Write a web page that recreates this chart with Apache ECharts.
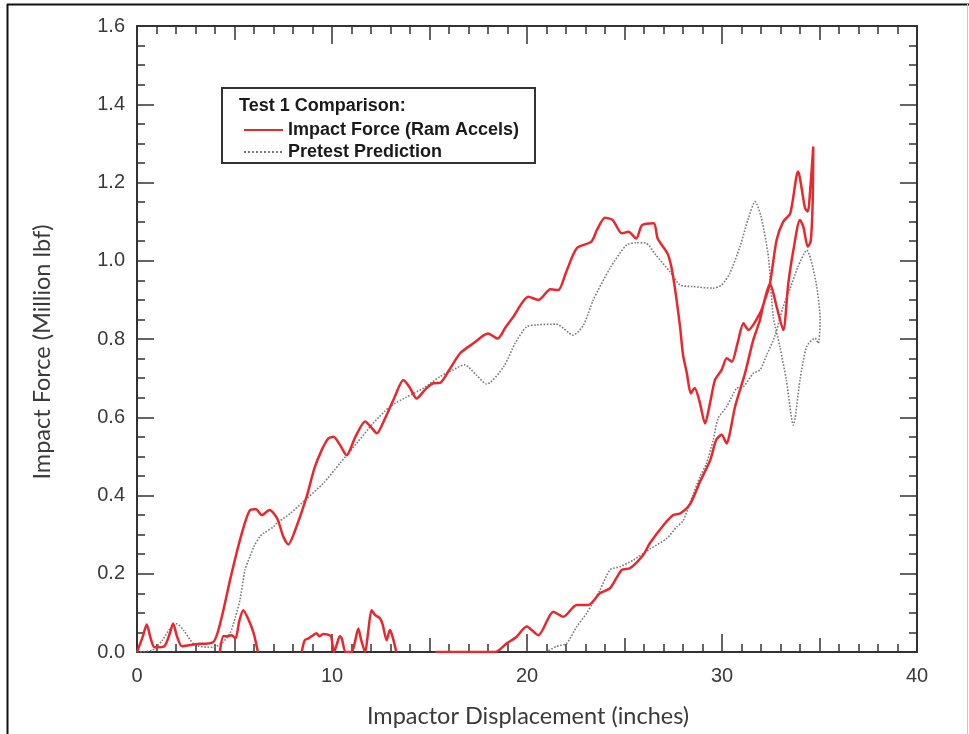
<!DOCTYPE html>
<html>
<head>
<meta charset="utf-8">
<script src="https://cdn.jsdelivr.net/npm/echarts@6/dist/echarts.min.js"></script>
<style>
html,body{margin:0;padding:0;background:#fff;}
#chart{width:969px;height:734px;}
</style>
</head>
<body>
<div id="chart"></div>
<script>
// ---------- data ----------
const xTicks = [0, 10, 20, 30, 40];
const yTicks = [0.0, 0.2, 0.4, 0.6, 0.8, 1.0, 1.2, 1.4, 1.6];

const seriesNames = ['Impact Force (Ram Accels)', 'Pretest Prediction'];
const legendTitle = 'Test 1 Comparison:';
const xTitle = 'Impactor Displacement (inches)';
const yTitle = 'Impact Force (Million lbf)';

// Impact Force (Ram Accels) – loading path
const redLoadX = [0.0,0.3,0.5,0.7,0.9,1.4,1.7,1.85,2.05,2.3,3.0,3.9,4.3,4.8,5.3,5.8,6.1,6.4,6.8,7.2,7.5,7.76,8.1,8.7,9.1,9.47,9.8,10.07,10.4,10.75,11.2,11.7,12.0,12.3,12.7,13.2,13.66,14.0,14.34,14.8,15.2,15.54,16.0,16.56,17.25,18.0,18.5,18.9,19.3,20.07,20.6,21.2,21.6,22.0,22.55,23.3,23.6,24.0,24.4,24.86,25.2,25.6,25.9,26.5,26.7,27.2,27.4,27.6,27.85,28.0,28.2,28.4,28.6,28.85,29.13,29.4,29.64,29.98,30.24,30.5,30.8,31.1,31.35,31.95,32.2,32.46,32.8,33.14,33.5,33.9,34.26,34.4,34.55,34.68];
const redLoadY = [0.0,0.04,0.07,0.035,0.012,0.015,0.05,0.073,0.04,0.015,0.02,0.025,0.08,0.19,0.29,0.363,0.365,0.35,0.363,0.34,0.295,0.275,0.31,0.397,0.47,0.516,0.545,0.55,0.53,0.503,0.55,0.589,0.575,0.559,0.595,0.65,0.695,0.675,0.648,0.672,0.687,0.688,0.72,0.763,0.789,0.814,0.801,0.83,0.857,0.908,0.9,0.927,0.925,0.97,1.032,1.049,1.08,1.11,1.104,1.07,1.074,1.057,1.091,1.096,1.057,1.019,0.985,0.925,0.831,0.76,0.712,0.661,0.675,0.64,0.584,0.64,0.695,0.721,0.751,0.742,0.79,0.84,0.823,0.866,0.9,0.942,1.053,1.1,1.121,1.228,1.134,1.126,1.2,1.292];
// Impact Force – unloading path
const redUnloadX = [34.65,34.55,34.4,34.17,34.0,33.66,33.4,33.14,32.8,32.46,32.1,31.95,31.6,31.18,30.67,30.4,30.24,29.98,29.7,29.4,28.87,28.36,27.85,27.5,27.08,26.3,25.96,25.28,24.86,24.26,23.74,23.14,22.55,21.86,21.35,20.58,19.98,19.47,18.96,18.36,15.3];
const redUnloadY = [1.15,1.05,1.036,1.087,1.104,1.027,0.942,0.823,0.883,0.942,0.883,0.849,0.797,0.712,0.627,0.559,0.533,0.555,0.542,0.491,0.435,0.378,0.354,0.35,0.329,0.278,0.248,0.214,0.21,0.163,0.15,0.12,0.12,0.09,0.103,0.043,0.065,0.039,0.022,0.0,0.0];
// Impact Force – rebound spikes near zero
const redSpikeAX = [13.3,13.1,12.97,12.8,12.6,12.46,12.2,12.03,11.85,11.7,11.5,11.35,11.15,11.0,10.7,10.5,10.4,10.25,10.1,9.95,9.75,9.55,9.35,9.2,9.04,8.8,8.6,8.45];
const redSpikeAY = [0.0,0.04,0.056,0.03,0.07,0.086,0.095,0.107,0.05,0.0,0.03,0.06,0.02,0.0,0.0,0.035,0.04,0.02,0.0,0.04,0.045,0.046,0.04,0.048,0.043,0.035,0.03,0.0];
const redSpikeBX = [6.2,5.97,5.7,5.45,5.25,5.05,4.85,4.6,4.43,4.25];
const redSpikeBY = [0.0,0.05,0.085,0.107,0.08,0.035,0.043,0.04,0.04,0.0];

// Pretest Prediction – loading path
const grayLoadX = [0.0,0.8,1.3,1.7,2.03,2.4,2.97,3.9,4.4,4.77,5.05,5.28,5.54,5.8,6.0,6.3,6.48,7.0,7.16,7.85,8.7,9.55,10.4,11.26,12.1,12.97,13.83,14.68,15.54,16.2,16.8,17.4,17.93,18.8,19.4,19.98,20.5,21.5,22.37,22.9,23.4,24.26,25.1,25.6,26.1,26.6,27.33,27.85,28.5,29.55,29.98,30.4,30.92,31.35,31.7,32.0,32.38,32.63,32.97,33.3,33.66,34.0,34.34,34.77,34.94,35.03];
const grayLoadY = [0.0,0.005,0.03,0.06,0.072,0.055,0.018,0.012,0.025,0.048,0.09,0.133,0.21,0.245,0.27,0.295,0.303,0.32,0.329,0.354,0.392,0.431,0.482,0.533,0.584,0.627,0.652,0.674,0.704,0.721,0.734,0.708,0.685,0.729,0.79,0.831,0.836,0.838,0.81,0.836,0.9,0.981,1.04,1.046,1.045,1.015,0.972,0.938,0.934,0.93,0.938,0.968,1.036,1.108,1.151,1.113,1.01,0.857,0.78,0.695,0.58,0.695,0.78,0.802,0.789,0.849];
// Pretest Prediction – unloading path
const grayUnloadX = [34.8,34.34,33.9,33.5,33.14,32.7,32.3,31.95,31.6,31.1,30.75,30.24,29.8,29.55,29.2,28.87,28.5,28.0,27.68,27.16,26.3,25.45,24.77,24.26,23.74,23.06,22.55,22.03,21.5,21.0];
const grayUnloadY = [0.95,1.027,0.985,0.93,0.883,0.806,0.76,0.721,0.712,0.678,0.674,0.627,0.597,0.542,0.482,0.448,0.4,0.335,0.32,0.29,0.263,0.235,0.218,0.21,0.158,0.099,0.065,0.022,0.014,0.0];

// ---------- helpers ----------
function zip(xs, ys) { return xs.map((x, i) => [x, ys[i]]); }
const redData = zip(redLoadX, redLoadY).concat(zip(redUnloadX, redUnloadY));
const grayData = zip(grayLoadX, grayLoadY).concat(zip(grayUnloadX, grayUnloadY));

const RED = '#e8282d';
const GRAY = '#7a7a7a';
const AX = '#333333';
const LBL = '#3a3a3a';

function fitSize(text, family, weight, target) {
  const c = document.createElement('canvas').getContext('2d');
  c.font = weight + ' 100px ' + family;
  const w = c.measureText(text).width;
  return Math.round(100 * target / w * 10) / 10;
}
const titleFamily = 'Lato';
const titleSize = fitSize(xTitle, titleFamily, 'normal', 322);

const chart = echarts.init(document.getElementById('chart'), null, {renderer: 'canvas'});

const tickStyle = {color: AX, width: 1.5};
function xAxisDef(pos, interval, len, labels, minor, line) {
  return {
    type: 'value', position: pos, min: xTicks[0], max: xTicks[xTicks.length - 1], interval: interval,
    axisLine: {show: line, onZero: false, lineStyle: {color: AX, width: 2}},
    axisTick: {show: true, inside: true, length: len, lineStyle: tickStyle},
    minorTick: {show: minor, splitNumber: 10, length: 8, lineStyle: tickStyle},
    splitLine: {show: false}, minorSplitLine: {show: false},
    axisLabel: {show: labels, margin: 14, fontFamily: 'Liberation Sans', fontSize: 20, color: LBL,
      formatter: v => String(v)}
  };
}
function yAxisDef(pos, labels) {
  return {
    type: 'value', position: pos, min: yTicks[0], max: yTicks[yTicks.length - 1], interval: 0.2,
    axisLine: {show: true, onZero: false, lineStyle: {color: AX, width: 2}},
    axisTick: {show: true, inside: true, length: 17, lineStyle: tickStyle},
    minorTick: {show: true, splitNumber: 4, length: 8, lineStyle: tickStyle},
    splitLine: {show: false}, minorSplitLine: {show: false},
    axisLabel: {show: labels, margin: 12, fontFamily: 'Liberation Sans', fontSize: 20, color: LBL,
      formatter: v => v.toFixed(1)}
  };
}

const option = {
  animation: false,
  backgroundColor: '#ffffff',
  grid: {left: 137, right: 52, top: 26, bottom: 82, containLabel: false},
  xAxis: [
    xAxisDef('bottom', 10, 18, true, true, true),
    xAxisDef('bottom', 5, 14, false, false, false),
    xAxisDef('top', 10, 18, false, true, true),
    xAxisDef('top', 5, 14, false, false, false)
  ],
  yAxis: [
    yAxisDef('left', true),
    yAxisDef('right', false)
  ],
  legend: {
    show: true, orient: 'vertical', left: 243, top: 121, padding: 0, itemGap: 4,
    itemWidth: 39, itemHeight: 14, data: seriesNames, z: 10, selectedMode: false,
    itemStyle: {opacity: 0, borderWidth: 0},
    textStyle: {fontFamily: 'Liberation Sans', fontWeight: 'bold', fontSize: 18, color: '#1a1a1a'}
  },
  series: [
    {name: seriesNames[0], type: 'line', data: redData, symbol: 'none', smooth: 0.25,
     lineStyle: {color: RED, width: 2.5}, itemStyle: {color: RED}, z: 3},
    {name: seriesNames[0], type: 'line', data: zip(redSpikeAX, redSpikeAY), symbol: 'none', smooth: 0.25,
     lineStyle: {color: RED, width: 2.5}, itemStyle: {color: RED}, z: 3},
    {name: seriesNames[0], type: 'line', data: zip(redSpikeBX, redSpikeBY), symbol: 'none', smooth: 0.25,
     lineStyle: {color: RED, width: 2.5}, itemStyle: {color: RED}, z: 3},
    {name: seriesNames[1], type: 'line', data: grayData, symbol: 'none', smooth: 0.25,
     lineStyle: {color: GRAY, width: 1.6, type: 'dotted'}, itemStyle: {color: GRAY}, z: 2}
  ],
  graphic: [
    {type: 'line', shape: {x1: 7.5, y1: 4, x2: 7.5, y2: 734}, style: {stroke: '#111', lineWidth: 2}, silent: true},
    {type: 'line', shape: {x1: 7, y1: 4.5, x2: 969, y2: 4.5}, style: {stroke: '#111', lineWidth: 2}, silent: true},
    {type: 'line', shape: {x1: 967.5, y1: 4, x2: 967.5, y2: 734}, style: {stroke: '#c8c8c8', lineWidth: 1}, silent: true},
    {type: 'rect', shape: {x: 222, y: 88, width: 313, height: 75}, style: {fill: '#fff', stroke: '#333', lineWidth: 2}, z: 5, silent: true},
    {type: 'text', left: 239, top: 97, z: 6, silent: true,
     style: {text: legendTitle, font: 'bold 18px "Liberation Sans"', fill: '#1a1a1a'}},
    {type: 'text', x: 528, y: 716, z: 6, silent: true,
     style: {text: xTitle, fontFamily: titleFamily, fontSize: titleSize, fill: LBL, align: 'center', verticalAlign: 'middle'}},
    {type: 'text', x: 42, y: 352, rotation: Math.PI / 2, z: 6, silent: true,
     style: {text: yTitle, fontFamily: titleFamily, fontSize: titleSize, fill: LBL, align: 'center', verticalAlign: 'middle'}}
  ]
};
chart.setOption(option);
</script>
</body>
</html>
